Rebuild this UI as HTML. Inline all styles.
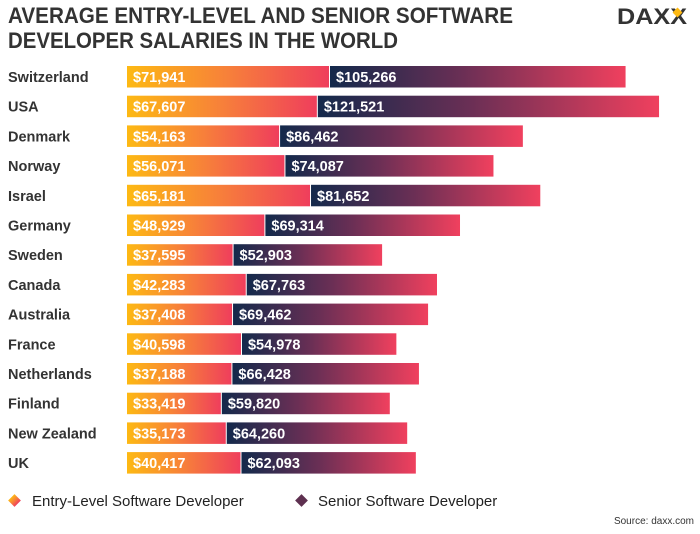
<!DOCTYPE html>
<html><head><meta charset="utf-8"><style>
body{margin:0;background:#fff;width:700px;height:529px;overflow:hidden;font-family:"Liberation Sans",sans-serif}
</style></head><body>
<svg width="700" height="529" viewBox="0 0 700 529" xmlns="http://www.w3.org/2000/svg">
<defs>
<linearGradient id="gE" x1="0" x2="1" y1="0" y2="0"><stop offset="0" stop-color="#fdb913"/><stop offset="0.5" stop-color="#f7803a"/><stop offset="1" stop-color="#ef3e5c"/></linearGradient>
<linearGradient id="gS" x1="0" x2="1" y1="0" y2="0"><stop offset="0" stop-color="#13294b"/><stop offset="0.45" stop-color="#6b2f55"/><stop offset="1" stop-color="#f0405e"/></linearGradient>
</defs>
<text x="8" y="23" font-size="22" font-weight="bold" fill="#333" textLength="505" lengthAdjust="spacingAndGlyphs">AVERAGE ENTRY-LEVEL AND SENIOR SOFTWARE</text>
<text x="8" y="48" font-size="22" font-weight="bold" fill="#333" textLength="390" lengthAdjust="spacingAndGlyphs">DEVELOPER SALARIES IN THE WORLD</text>
<g>
<text x="617" y="24" font-size="22" font-weight="bold" fill="#333" textLength="70" lengthAdjust="spacingAndGlyphs">DAXX</text>
<rect x="674" y="9" width="7" height="7" fill="#fdb913" transform="rotate(45 677.5 12.5)"/>
</g>
<g id="bars"></g>
<g>
<rect x="10" y="496" width="9" height="9" fill="url(#gE)" transform="rotate(45 14.5 500.5)"/>
<text x="32" y="506" font-size="15" fill="#222">Entry-Level Software Developer</text>
<rect x="297" y="496" width="9" height="9" fill="#5e3050" transform="rotate(45 301.5 500.5)"/>
<text x="318" y="506" font-size="15" fill="#222">Senior Software Developer</text>
</g>
<text x="694" y="524" font-size="10" fill="#333" text-anchor="end">Source: daxx.com</text>
</svg>
<script>
const countries=["Switzerland","USA","Denmark","Norway","Israel","Germany","Sweden","Canada","Australia","France","Netherlands","Finland","New Zealand","UK"];
const entry=[71941,67607,54163,56071,65181,48929,37595,42283,37408,40598,37188,33419,35173,40417];
const senior=[105266,121521,86462,74087,81652,69314,52903,67763,69462,54978,66428,59820,64260,62093];
const NS="http://www.w3.org/2000/svg";
const x0=127,scale=202/71941;
const xs=v=>v*scale;
const yRow=i=>66+i*29.7;
const g=document.getElementById('bars');
const fmt=v=>"$"+v.toLocaleString("en-US");
function mk(t,a){const e=document.createElementNS(NS,t);for(const k in a)e.setAttribute(k,a[k]);g.appendChild(e);return e;}
countries.forEach((c,i)=>{
 const y=yRow(i),h=21.5;
 const l=mk('text',{x:8,y:y+16,'font-size':14.5,'font-weight':'bold',fill:'#333'});l.textContent=c;
 
 
 const we=xs(entry[i]);
 const r1=mk('rect',{x:x0,y:y,width:we,height:h,fill:'url(#gE)'});
 
 
 const ws=xs(senior[i]);
 const r2=mk('rect',{x:x0+we+1,y:y,width:ws,height:h,fill:'url(#gS)'});
 
 
 const t1=mk('text',{x:x0+6,y:y+16,'font-size':14.5,'font-weight':'bold',fill:'#fff'});t1.textContent=fmt(entry[i]);
 
 
 const t2=mk('text',{x:x0+we+7,y:y+16,'font-size':14.5,'font-weight':'bold',fill:'#fff'});t2.textContent=fmt(senior[i]);
 
 
});
</script>
</body></html>
